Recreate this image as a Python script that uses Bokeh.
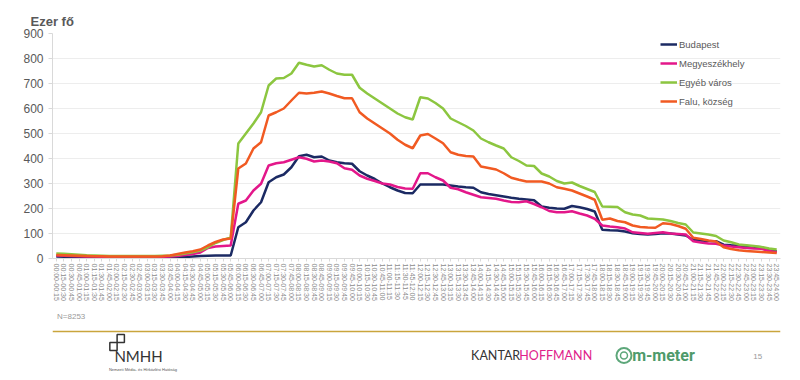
from bokeh.plotting import figure
from bokeh.models import Range1d, FactorRange, SingleIntervalTicker, Legend, LegendItem, ColumnDataSource
from bokeh.layouts import column
from bokeh.embed import file_html
from bokeh.resources import INLINE
from bokeh.core.properties import value

# categories: quarter-hour slots
slots = [f"{h:02d}:{m:02d}-{h + (m + 15) // 60:02d}:{(m + 15) % 60:02d}"
         for h in range(24) for m in (0, 15, 30, 45)]

budapest = [8, 7, 6, 5, 5, 4, 4, 4, 3, 3, 3, 3, 3, 3, 3, 4, 5, 6, 8, 10, 11, 12, 12, 12,
            125, 145, 192, 225, 305, 325, 336, 365,
            409, 415, 405, 408, 392, 385, 381, 379,
            349, 332, 318, 300, 285, 272, 262, 261,
            296, 296, 296, 296, 292, 288, 285, 283,
            265, 258, 253, 248, 243, 239, 236, 233,
            208, 203, 200, 199, 210, 205, 198, 188,
            115, 113, 112, 108, 101, 98, 96, 98,
            101, 100, 96, 92, 75, 72, 70, 69,
            55, 53, 52, 50, 47, 45, 32, 29]

megyeszekhely = [12, 11, 10, 9, 8, 8, 7, 7, 7, 7, 7, 7, 7, 7, 7, 8, 10, 14, 18, 24, 42, 48, 50, 52,
                 219, 232, 272, 299, 372, 381, 385, 395,
                 405, 399, 388, 392, 388, 381, 361, 355,
                 332, 319, 310, 300, 296, 286, 280, 279,
                 341, 341, 325, 312, 283, 277, 265, 255,
                 245, 242, 239, 232, 226, 225, 229, 218,
                 205, 190, 185, 185, 189, 180, 172, 159,
                 132, 128, 125, 120, 105, 102, 99, 102,
                 105, 100, 98, 96, 69, 64, 60, 59,
                 52, 48, 45, 42, 40, 39, 30, 25]

egyeb_varos = [20, 19, 17, 15, 13, 12, 11, 10, 10, 10, 10, 10, 10, 10, 11, 12, 15, 20, 25, 32, 45, 62, 74, 84,
               460, 500, 540, 585, 692, 720, 722, 740,
               783, 775, 768, 773, 755, 740, 735, 735,
               683, 660, 640, 620, 600, 580, 565, 556,
               645, 640, 622, 600, 560, 545, 530, 512,
               480, 465, 452, 440, 405, 390, 372, 370,
               340, 328, 310, 300, 304, 290, 278, 266,
               208, 207, 206, 185, 176, 172, 160, 158,
               156, 150, 142, 136, 104, 100, 96, 90,
               72, 65, 56, 53, 50, 46, 40, 36]

falu_kozseg = [14, 13, 12, 11, 10, 9, 9, 8, 8, 8, 8, 8, 8, 8, 9, 12, 18, 24, 29, 36, 52, 66, 76, 80,
               360, 380, 440, 465, 572, 585, 600, 632,
               663, 660, 663, 668, 660, 650, 641, 641,
               585, 560, 540, 520, 500, 475, 455, 441,
               492, 498, 480, 461, 425, 415, 410, 408,
               368, 362, 356, 341, 323, 315, 308, 308,
               308, 300, 285, 279, 272, 260, 248, 235,
               155, 160, 150, 145, 132, 126, 124, 123,
               141, 138, 130, 119, 83, 78, 72, 68,
               45, 38, 33, 30, 28, 26, 24, 22]

series_names = ["Budapest", "Megyeszékhely", "Egyéb város", "Falu, község"]
series_values = [budapest, megyeszekhely, egyeb_varos, falu_kozseg]
series_colors = ["#1B2A63", "#E3178A", "#8CC640", "#F15A22"]

FONT = "Liberation Sans"

p = figure(width=800, height=308,
           x_range=FactorRange(factors=slots), y_range=Range1d(0, 900),
           output_backend="svg", toolbar_location=None,
           min_border_left=52, min_border_right=20, min_border_top=33, min_border_bottom=50)

p.title.text = "Ezer fő"
p.title.text_font = FONT
p.title.text_font_size = "13px"
p.title.text_font_style = "bold"
p.title.text_color = "#595959"
p.title.align = "left"
p.title.offset = -22
p.title.standoff = 10

p.outline_line_color = None
p.xgrid.grid_line_color = None
p.ygrid.grid_line_color = "#EDEDED"
p.background_fill_color = "white"
p.border_fill_color = "white"

p.yaxis.ticker = SingleIntervalTicker(interval=100)
p.yaxis.axis_line_color = "#D9D9D9"
p.yaxis.major_tick_line_color = "#D9D9D9"
p.yaxis.major_tick_out = 4
p.yaxis.major_tick_in = 0
p.yaxis.minor_tick_line_color = None
p.yaxis.major_label_text_font = FONT
p.yaxis.major_label_text_font_size = "12px"
p.yaxis.major_label_text_color = "#595959"
p.yaxis.major_label_standoff = 5

p.xaxis.axis_line_color = "#D9D9D9"
p.xaxis.major_tick_line_color = "#D9D9D9"
p.xaxis.major_tick_out = 3
p.xaxis.major_tick_in = 0
p.xaxis.major_label_orientation = "vertical"
p.xaxis.major_label_text_font = FONT
p.xaxis.major_label_text_font_size = "7px"
p.xaxis.major_label_text_color = "#8C8C8C"
p.xaxis.major_label_standoff = 2

items = []
for name, vals, col in zip(series_names, series_values, series_colors):
    src = ColumnDataSource(dict(x=slots, y=vals))
    r = p.line("x", "y", source=src, line_color=col, line_width=2.5)
    items.append(LegendItem(label=name, renderers=[r]))

legend = Legend(items=items, location=(608, 150), orientation="vertical",
                padding=0, margin=0, spacing=5,
                glyph_height=14, glyph_width=17, label_height=14, label_standoff=2,
                label_text_font=FONT, label_text_font_size="9.5px", label_text_color="#595959",
                border_line_color=None, background_fill_alpha=0)
p.add_layout(legend)

# footer
f = figure(width=800, height=72, x_range=Range1d(0, 800), y_range=Range1d(0, 72),
           output_backend="svg", toolbar_location=None, min_border=0,
           x_axis_location=None, y_axis_location=None)
f.outline_line_color = None
f.grid.visible = False
f.border_fill_color = "white"

f.text(x=[5], y=[64], text=["N=8253"], text_font=value(FONT), text_font_size=value("8px"),
       text_color="#9A9A9A", text_baseline="middle", text_align="left")
f.segment(x0=[0], y0=[49], x1=[800], y1=[49], line_color="#C9A53C", line_width=1.5)

# NMHH logo
f.rect(x=[67, 75], y=[34, 42], width=8, height=8, fill_color="white",
       line_color="#333333", line_width=1.5)
f.text(x=[68], y=[25], text=["NMHH"], text_font=value("Lato"), text_font_size=value("15px"),
       text_color="#333333", text_baseline="middle", text_align="left")
f.text(x=[62], y=[11], text=["Nemzeti Média- és Hírközlési Hatóság"], text_font=value(FONT),
       text_font_size=value("4px"), text_color="#555555", text_baseline="middle", text_align="left")

# Kantar Hoffmann
f.text(x=[460], y=[25], text=["KANTAR"], text_font=value("Lato"), text_font_size=value("12.5px"),
       text_color="#333333", text_baseline="middle", text_align="left")
f.text(x=[513], y=[25], text=["HOFFMANN"], text_font=value("Lato"), text_font_size=value("12.5px"),
       text_color="#E0218A", text_baseline="middle", text_align="left")

# m-meter
f.scatter(x=[628], y=[25], size=15, marker="circle", fill_color="white",
          line_color="#5DA77A", line_width=2)
f.scatter(x=[628], y=[25], size=7, marker="circle", fill_color="white",
          line_color="#5DA77A", line_width=1.5)
f.text(x=[637], y=[25], text=["m-meter"], text_font=value("Roboto"), text_font_size=value("16px"),
       text_font_style="bold", text_color="#4E9A6A", text_baseline="middle", text_align="left")

f.text(x=[770], y=[24], text=["15"], text_font=value(FONT), text_font_size=value("8px"),
       text_color="#9A9A9A", text_baseline="middle", text_align="left")

layout = column(p, f, spacing=0)
open("out.html", "w").write(file_html(layout, INLINE))
